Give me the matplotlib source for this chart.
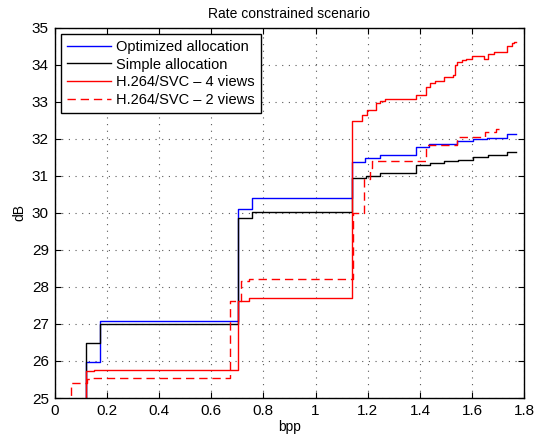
import matplotlib
matplotlib.use("Agg")
import matplotlib.pyplot as plt

plt.rcParams['font.family'] = ['Liberation Sans', 'DejaVu Sans']

# Optimized allocation
opt_x = [0.121, 0.121, 0.174, 0.702, 0.755, 1.139, 1.191, 1.246, 1.386, 1.433, 1.541, 1.603, 1.656, 1.732, 1.768]
opt_y = [24.0, 25.96, 27.09, 30.10, 30.40, 31.37, 31.47, 31.57, 31.78, 31.85, 31.94, 31.99, 32.02, 32.13, 32.13]

# Simple allocation
simple_x = [0.121, 0.121, 0.174, 0.702, 0.755, 1.139, 1.194, 1.246, 1.386, 1.437, 1.49, 1.544, 1.603, 1.66, 1.732, 1.768]
simple_y = [24.0, 26.49, 27.0, 29.85, 30.03, 30.94, 31.0, 31.08, 31.28, 31.35, 31.39, 31.43, 31.5, 31.55, 31.63, 31.63]

# H.264/SVC - 4 views
svc4_x = [0.121, 0.121, 0.15, 0.704, 0.745, 1.139, 1.178, 1.195, 1.233, 1.248, 1.267, 1.386, 1.424,
          1.44, 1.459, 1.49, 1.525, 1.532, 1.541, 1.56, 1.577, 1.6, 1.646, 1.66, 1.682, 1.732, 1.751,
          1.76, 1.768]
svc4_y = [24.0, 25.72, 25.75, 27.63, 27.70, 32.48, 32.65, 32.77, 32.95, 33.03, 33.08, 33.17, 33.40,
          33.51, 33.55, 33.67, 33.71, 33.98, 34.07, 34.12, 34.16, 34.22, 34.16, 34.28, 34.35, 34.50, 34.57,
          34.60, 34.60]

# H.264/SVC - 2 views
svc2_x = [0.062, 0.062, 0.123, 0.14, 0.672, 0.714, 0.745, 1.144, 1.187, 1.21, 1.216, 1.38, 1.424,
          1.541, 1.647, 1.692, 1.707]
svc2_y = [24.0, 25.40, 25.50, 25.55, 27.62, 28.16, 28.21, 30.0, 30.9, 31.2, 31.39, 31.41, 31.82,
          32.04, 32.17, 32.27, 32.27]

x_ticks = [0, 0.2, 0.4, 0.6, 0.8, 1.0, 1.2, 1.4, 1.6, 1.8]
x_tick_labels = ['0', '0.2', '0.4', '0.6', '0.8', '1', '1.2', '1.4', '1.6', '1.8']
y_ticks = [25, 26, 27, 28, 29, 30, 31, 32, 33, 34, 35]

fig = plt.figure(figsize=(5.5, 4.37), dpi=100)
ax = fig.add_axes([0.0991, 0.0892, 0.8545, 0.8478])

ax.plot(opt_x, opt_y, drawstyle='steps-post', color='b', linewidth=1.0, label='Optimized allocation')
ax.plot(simple_x, simple_y, drawstyle='steps-post', color='k', linewidth=1.0, label='Simple allocation')
ax.plot(svc4_x, svc4_y, drawstyle='steps-post', color='r', linewidth=1.0,
        label='H.264/SVC \u2013 4 views')
ax.plot(svc2_x, svc2_y, drawstyle='steps-post', color='r', linewidth=1.0, dashes=(6, 3.5),
        label='H.264/SVC \u2013 2 views')

ax.set_xlim(0, 1.8)
ax.set_ylim(25, 35)
ax.set_xticks(x_ticks)
ax.set_xticklabels(x_tick_labels)
ax.set_yticks(y_ticks)
ax.tick_params(direction='in', length=4, width=0.8, labelsize=11, top=True, right=True, pad=4)
ax.grid(True, color='0.35', linestyle=(0, (1, 5)), linewidth=0.8)
for sp in ax.spines.values():
    sp.set_linewidth(1.0)

ax.set_xlabel('bpp', fontsize=10, labelpad=2)
ax.set_ylabel('dB', fontsize=10, labelpad=4)
ax.set_title('Rate constrained scenario', fontsize=10, pad=7)

leg = ax.legend(loc='upper left', fontsize=10.5, fancybox=False, framealpha=1, edgecolor='k',
                handlelength=3.0, handletextpad=0.4, labelspacing=0.25, borderpad=0.4,
                borderaxespad=0.45)
leg.get_frame().set_linewidth(1.0)

fig.savefig('out.png', dpi=100)
